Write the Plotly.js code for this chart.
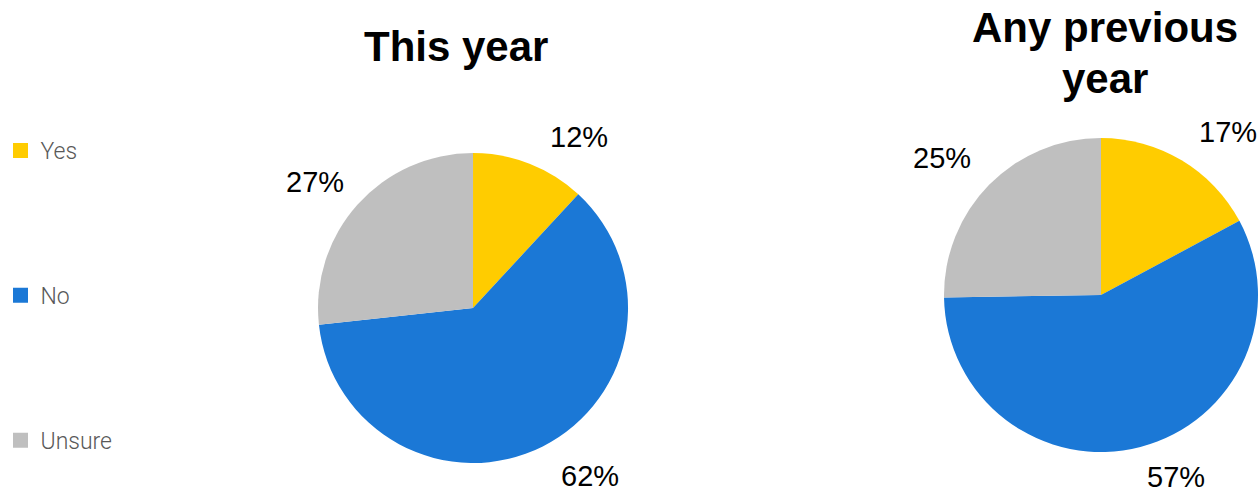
<!DOCTYPE html>
<html>
<head>
<meta charset="utf-8">
<script src="https://cdn.plot.ly/plotly-3.0.1.min.js"></script>
<style>html,body{margin:0;padding:0;background:#fff;}#chart{width:1258px;height:492px;}</style>
</head>
<body>
<div id="chart"></div>
<script>
// ---- data ----
const categories = ["Yes", "No", "Unsure"];
const thisYearValues = [12, 62, 27];
const previousYearValues = [17, 57, 25];
const chartTitles = ["This year", "Any previous", "year"];

// ---- styles / layout ----
const colors = ["#FFCC00", "#1B78D6", "#BFBFBF"];
const W = 1258, H = 492;
const px = (x) => x / W;
const py = (y) => 1 - y / H;

// label positions (pixel centres) for the percentage texts, in category order
const labelPosLeft = [[575, 137], [586, 476], [309, 182]];
const labelPosRight = [[1228, 132], [1175, 477], [940, 158]];

function pieTrace(values, cx, cy, r) {
  return {
    type: "pie",
    labels: categories,
    values: values,
    sort: false,
    direction: "clockwise",
    rotation: 0,
    marker: { colors: colors, line: { width: 0 } },
    textinfo: "none",
    hoverinfo: "label+value",
    showlegend: false,
    domain: { x: [px(cx - r), Math.min(1, px(cx + r))], y: [py(cy + r), py(cy - r)] }
  };
}

const traces = [
  pieTrace(thisYearValues, 468, 308, 156),
  pieTrace(previousYearValues, 1100, 295, 158)
];

// legend entries (one per category)
categories.forEach((c, i) => {
  traces.push({
    type: "scatter", mode: "markers", x: [null], y: [null], name: c,
    legendgroup: "g" + i, showlegend: true,
    marker: { symbol: "square", size: 15, color: colors[i] },
    xaxis: "x", yaxis: "y"
  });
});

const annotations = [];
function addLabels(values, pos) {
  values.forEach((v, i) => {
    annotations.push({
      xref: "paper", yref: "paper", x: px(pos[i][0]), y: py(pos[i][1]),
      xanchor: "center", yanchor: "middle", showarrow: false,
      text: v + "%", font: { family: "Liberation Sans, Arial, sans-serif", size: 29, color: "#000" }
    });
  });
}
addLabels(thisYearValues, labelPosLeft);
addLabels(previousYearValues, labelPosRight);

const titleFont = { family: "Liberation Sans, Arial, sans-serif", size: 42, color: "#000", weight: "bold" };
annotations.push({ xref: "paper", yref: "paper", x: px(451), y: py(46), xanchor: "center", yanchor: "middle",
  showarrow: false, text: "<b>" + chartTitles[0] + "</b>", font: titleFont });
annotations.push({ xref: "paper", yref: "paper", x: px(1104), y: py(28), xanchor: "center", yanchor: "middle",
  showarrow: false, text: "<b>" + chartTitles[1] + "</b>", font: titleFont });
annotations.push({ xref: "paper", yref: "paper", x: px(1104), y: py(78), xanchor: "center", yanchor: "middle",
  showarrow: false, text: "<b>" + chartTitles[2] + "</b>", font: titleFont });

const layout = {
  width: W, height: H,
  margin: { l: 0, r: 0, t: 0, b: 0 },
  paper_bgcolor: "#fff", plot_bgcolor: "#fff",
  xaxis: { visible: false, domain: [0, 0.01] },
  yaxis: { visible: false, domain: [0, 0.01] },
  showlegend: true,
  legend: {
    x: -0.006, y: py(129), xanchor: "left", yanchor: "top",
    tracegroupgap: 112,
    font: { family: "Roboto, Liberation Sans, sans-serif", size: 23, color: "#595959", weight: 300 },
    itemsizing: "trace", bgcolor: "rgba(0,0,0,0)"
  },
  annotations: annotations
};

Plotly.newPlot("chart", traces, layout, { displayModeBar: false, staticPlot: true });
</script>
</body>
</html>
